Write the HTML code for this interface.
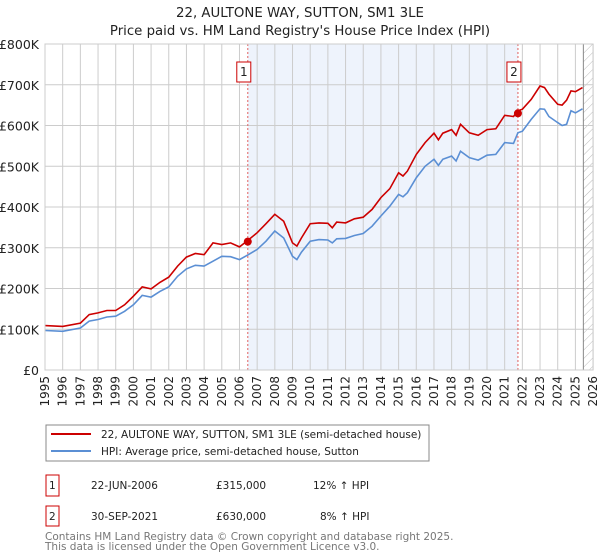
<!DOCTYPE html>
<html><head><meta charset="utf-8"><style>
body{margin:0;background:#fff;font-family:"Liberation Sans","DejaVu Sans",sans-serif}
svg{display:block}
</style></head><body>
<svg id="chart" width="600" height="560" xmlns="http://www.w3.org/2000/svg" font-family="DejaVu Sans, Liberation Sans, sans-serif">
<defs><pattern id="hatch" width="6" height="6" patternUnits="userSpaceOnUse" patternTransform="rotate(45)"><line x1="0" y1="0" x2="0" y2="6" stroke="#bbb" stroke-width="1"/></pattern></defs>
<text x="300" y="17" text-anchor="middle" font-size="13.3" fill="#222">22, AULTONE WAY, SUTTON, SM1 3LE</text>
<text x="300" y="35" text-anchor="middle" font-size="13.3" fill="#222">Price paid vs. HM Land Registry's House Price Index (HPI)</text>
<g id="plot"></g>
<g>
<rect x="46" y="425" width="383" height="36" fill="#fff" stroke="#888"/>
<line x1="51" y1="434" x2="91" y2="434" stroke="#cc0000" stroke-width="2"/>
<text x="101" y="438" font-size="10.5" fill="#222">22, AULTONE WAY, SUTTON, SM1 3LE (semi-detached house)</text>
<line x1="51" y1="451" x2="91" y2="451" stroke="#5b8fd4" stroke-width="2"/>
<text x="101" y="455" font-size="10.5" fill="#222">HPI: Average price, semi-detached house, Sutton</text>
</g>
<g font-size="10.5" fill="#222">
<rect x="46" y="475" width="13" height="21" fill="#fff" stroke="#cc0000"/><text x="49" y="489">1</text>
<text x="91" y="489">22-JUN-2006</text><text x="216" y="489">£315,000</text><text x="313" y="489">12% ↑ HPI</text>
<rect x="46" y="506" width="13" height="20" fill="#fff" stroke="#cc0000"/><text x="49" y="520">2</text>
<text x="91" y="520">30-SEP-2021</text><text x="216" y="520">£630,000</text><text x="320" y="520">8% ↑ HPI</text>
</g>
<text x="45" y="540" font-size="10.5" fill="#777">Contains HM Land Registry data © Crown copyright and database right 2025.</text>
<text x="45" y="550" font-size="10.5" fill="#777">This data is licensed under the Open Government Licence v3.0.</text>
</svg>
<script>
const years=[1995,1996,1997,1997.5,1998,1998.5,1999,1999.5,2000,2000.5,2001,2001.5,2002,2002.5,2003,2003.5,2004,2004.5,2005,2005.5,2006,2006.5,2007,2007.5,2008,2008.5,2009,2009.25,2009.5,2010,2010.5,2011,2011.25,2011.5,2012,2012.5,2013,2013.5,2014,2014.5,2015,2015.25,2015.5,2016,2016.5,2017,2017.25,2017.5,2018,2018.25,2018.5,2019,2019.5,2020,2020.5,2021,2021.5,2021.75,2022,2022.5,2023,2023.25,2023.5,2024,2024.25,2024.5,2024.75,2025,2025.4];
const hpi=[97,95,103,120,124,130,132,144,160,183,179,193,204,230,248,257,255,267,279,278,271,283,296,316,341,324,279,271,289,316,320,319,312,322,323,330,335,353,378,402,431,425,435,472,500,517,502,517,525,513,537,521,515,527,529,558,556,582,586,615,641,640,622,607,600,603,636,631,641];
const prop=[109,107,115,136,140,146,146,160,181,204,199,215,228,255,277,286,283,312,308,312,302,319,337,359,382,365,312,304,324,359,361,360,349,363,361,371,375,394,423,445,484,476,488,529,558,581,565,581,590,576,603,582,576,590,592,625,622,636,640,664,697,693,677,652,650,662,685,683,693];
const yTicks=[0,100,200,300,400,500,600,700,800];
const xTicks=[1995,1996,1997,1998,1999,2000,2001,2002,2003,2004,2005,2006,2007,2008,2009,2010,2011,2012,2013,2014,2015,2016,2017,2018,2019,2020,2021,2022,2023,2024,2025,2026];
const saleYears=[2006.47,2021.75];
const salePrices=[315,630];
const saleLabels=["1","2"];
const X=y=>45+(y-1995)*17.68;
const Y=v=>370-v*0.4075;
const NS="http://www.w3.org/2000/svg";
const g=document.getElementById('plot');
function mk(t,a){const e=document.createElementNS(NS,t);for(const k in a)e.setAttribute(k,a[k]);g.appendChild(e);return e;}
let e;
e=mk('rect',{x:X(saleYears[0]),y:Y(800),width:X(saleYears[1])-X(saleYears[0]),height:Y(0)-Y(800),fill:'#eef3fc'});


e=mk('rect',{x:X(2025.45),y:Y(800),width:X(2026)-X(2025.45),height:Y(0)-Y(800),fill:'url(#hatch)'});


xTicks.forEach(t=>{
 e=mk('line',{x1:X(t),x2:X(t),y1:Y(800),y2:Y(0),stroke:'#ccc'});
 
 
 e=mk('text',{x:0,y:0,transform:`translate(${X(t)+4},376) rotate(-90)`,'text-anchor':'end','font-size':12,fill:'#222'});
 e.textContent=t;
 
 
});
yTicks.forEach(t=>{
 e=mk('line',{x1:X(1995),x2:X(2026),y1:Y(t),y2:Y(t),stroke:'#ccc'});
 
 
 e=mk('text',{x:39,y:Y(t)+5,'text-anchor':'end','font-size':12.5,fill:'#222'});
 e.textContent=t===0?'£0':'£'+t+'K';
 
 
});
e=mk('line',{x1:X(2025.45),x2:X(2025.45),y1:Y(800),y2:Y(0),stroke:'#888'});


saleYears.forEach((s,i)=>{
 e=mk('line',{x1:X(s),x2:X(s),y1:Y(800),y2:Y(0),stroke:'#e06060','stroke-dasharray':'2,2'});
 
 
 e=mk('rect',{x:X(s)-11,y:62,width:14,height:20,fill:'#fff',stroke:'#cc0000'});
 
 
 e=mk('text',{x:X(s)-4,y:76,'text-anchor':'middle','font-size':12,fill:'#222'});
 e.textContent=saleLabels[i];
 
 
});
const pts=a=>years.map((y,i)=>X(y).toFixed(1)+','+Y(a[i]).toFixed(1)).join(' ');
e=mk('polyline',{points:pts(hpi),fill:'none',stroke:'#5b8fd4','stroke-width':1.6});


e=mk('polyline',{points:pts(prop),fill:'none',stroke:'#cc0000','stroke-width':1.6});


saleYears.forEach((s,i)=>{
 e=mk('circle',{cx:X(s),cy:Y(salePrices[i]),r:4,fill:'#cc0000'});
 
 
});
e=mk('rect',{x:X(1995),y:Y(800),width:X(2026)-X(1995),height:Y(0)-Y(800),fill:'none',stroke:'#ccc'});


</script>
</body></html>
